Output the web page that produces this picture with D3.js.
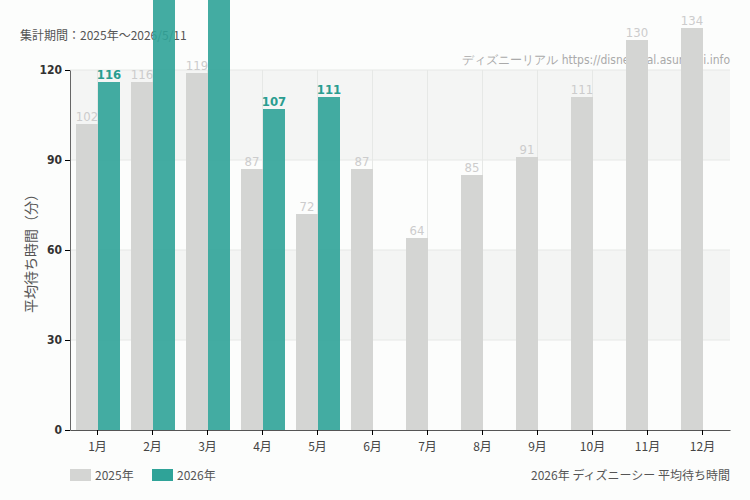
<!DOCTYPE html>
<html><head><meta charset="utf-8">
<script src="https://cdn.jsdelivr.net/npm/d3@7"></script>
<style>
body{margin:0;background:#fcfdfc;}
text{font-family:"Noto Sans CJK JP","Noto Sans",sans-serif;}
.num{font-family:"DejaVu Sans Condensed","DejaVu Sans",sans-serif;font-stretch:condensed;}
</style></head><body>
<svg id="c" width="750" height="500"></svg>
<script>
var months = ["1月","2月","3月","4月","5月","6月","7月","8月","9月","10月","11月","12月"];
var y2025 = [102,116,119,87,72,87,64,85,91,111,130,134];
var y2026 = [116,155,160,107,111];
var yTicks = [0,30,60,90,120];

var svg = d3.select("#c"),
    pl = 70, pr = 730, pt = 70, pb = 430;

var x = d3.scaleBand().domain(months).range([pl, pr]);
var y = d3.scaleLinear().domain([0,120]).range([pb, pt]);

// shaded bands
[[90,120],[30,60]].forEach(function(b){
    svg.append("rect").attr("x", pl).attr("width", pr-pl)
       .attr("y", y(b[1])).attr("height", y(b[0])-y(b[1])).attr("fill","#f4f5f4");
});
yTicks.slice(1).forEach(function(t){
    svg.append("line").attr("x1",pl).attr("x2",pr).attr("y1",y(t)).attr("y2",y(t))
       .attr("stroke","#e6e8e6");
});
months.forEach(function(m){
    var cx = x(m)+x.bandwidth()/2;
    svg.append("line").attr("x1",cx).attr("x2",cx).attr("y1",pt).attr("y2",pb)
       .attr("stroke","#e6e8e6");
});

svg.append("text").attr("x",20).attr("y",40).attr("font-size",12).attr("fill","#555")
   .text("集計期間：2025年～2026/5/11");
svg.append("text").attr("x",730).attr("y",64).attr("text-anchor","end").attr("font-size",12)
   .attr("fill","#aaa").attr("class","num").text("ディズニーリアル https://disneyreal.asumirai.info");

var bw = 22;
var g1 = svg.append("g");
y2025.forEach(function(v,i){
    var bx = x(months[i])+6;
    g1.append("rect").attr("x",bx).attr("y",y(v)).attr("width",bw).attr("height",y(0)-y(v)).attr("fill","#d4d5d3");
    g1.append("text").attr("class","num").attr("x",bx+bw/2).attr("y",y(v)-3).attr("text-anchor","middle")
      .attr("font-size",13).attr("fill","#ccc").text(v);
});
y2026.forEach(function(v,i){
    var bx = x(months[i])+6+bw;
    g1.append("rect").attr("x",bx).attr("y",y(v)).attr("width",bw).attr("height",y(0)-y(v))
      .attr("fill","#2fa398").attr("opacity",0.9);
    g1.append("text").attr("class","num").attr("x",bx+bw/2).attr("y",y(v)-3).attr("text-anchor","middle")
      .attr("font-size",13).attr("font-weight","bold").attr("fill","#2a9d90").text(v);
});

var ya = svg.append("g").attr("transform","translate("+pl+",0)")
   .call(d3.axisLeft(y).tickValues(yTicks).tickSize(5).tickSizeOuter(0));
ya.select(".domain").attr("stroke","#666");
ya.selectAll("text").attr("font-size",12).attr("fill","#333").attr("font-weight","bold").attr("class","num");
var xa = svg.append("g").attr("transform","translate(0,"+pb+")")
   .call(d3.axisBottom(x).tickSize(5).tickSizeOuter(0));
xa.select(".domain").attr("stroke","#555");
xa.selectAll("text").attr("font-size",12).attr("fill","#444").attr("dy","1.1em");

svg.append("text").attr("transform","translate(36,250) rotate(-90)").attr("text-anchor","middle")
   .attr("font-size",14).attr("fill","#555").text("平均待ち時間（分）");

[["2025年","#d4d5d3"],["2026年","#2fa398"]].forEach(function(d,i){
    var lx = 70 + i*82;
    svg.append("rect").attr("x",lx).attr("y",469).attr("width",21).attr("height",12).attr("fill",d[1]);
    svg.append("text").attr("x",lx+25).attr("y",480).attr("font-size",12).attr("fill","#555").text(d[0]);
});
svg.append("text").attr("x",730).attr("y",480).attr("text-anchor","end").attr("font-size",12)
   .attr("fill","#555").text("2026年 ディズニーシー 平均待ち時間");
</script></body></html>
